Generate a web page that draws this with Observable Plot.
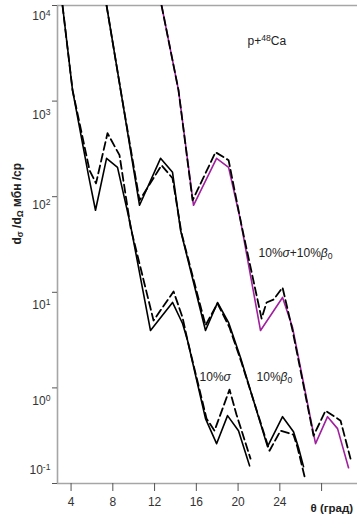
<!DOCTYPE html>
<html><head><meta charset="utf-8">
<script src="https://cdn.jsdelivr.net/npm/d3@7"></script>
<script src="https://cdn.jsdelivr.net/npm/@observablehq/plot@0.6"></script>
<style>html,body{margin:0;padding:0;background:#fff;overflow:hidden}</style>
</head><body><div id="chart"></div>
<script>
// ---- axis ticks ----
const xDomain = [2.7, 31.44];
const yDomain = [0.1, 1e4];
const xTicks = [4, 8, 12, 16, 20, 24, 28];
const xTickLabels = ["4", "8", "12", "16", "20", "24", ""];
const yTicks = [1e4, 1e3, 1e2, 1e1, 1e0, 1e-1];
const yTickLabels = ["10^{4}", "10^{3}", "10^{2}", "10^{1}", "10^{0}", "10^{-1}"];

// ---- curves: [theta (deg), dσ/dΩ (mb/sr)] ----
const sigmaSolid = [[3.18,10000],[4.14,1303],[5.67,167],[6.34,72.1],[7.40,252],[8.45,203],[9.70,50.1],[11.61,3.98],[13.72,7.83],[14.68,4.72],[15.16,3.13],[16.88,0.477],[17.94,0.261],[18.99,0.513],[20.04,0.357],[21.10,0.153]];
const sigmaDashed = [[3.18,10000],[4.14,1303],[5.77,189],[6.39,138],[7.49,461],[8.64,272],[9.70,47.8],[11.90,5.07],[13.82,10.2],[14.68,5.45],[15.16,3.13],[16.98,0.477],[17.74,0.357],[19.18,0.96],[19.85,0.525],[21.19,0.182]];
const betaSolid = [[7.40,10000],[8.83,1153],[10.56,81.3],[12.57,252],[13.72,180],[14.49,44.5],[16.88,3.98],[18.03,7.83],[19.09,4.83],[20.23,2.08],[22.82,0.243],[24.26,0.500],[25.31,0.348],[25.79,0.237],[26.27,0.150]];
const betaDashed = [[7.40,10000],[8.83,1153],[10.56,91.6],[12.67,213],[13.72,156],[14.58,41.4],[16.88,4.50],[18.03,7.64],[19.18,4.28],[20.33,1.84],[23.01,0.220],[24.07,0.357],[25.31,0.324],[25.70,0.237],[26.37,0.118]];
const bothSolid = [[12.67,10000],[14.29,1303],[15.73,81.3],[17.94,252],[19.09,203],[20.23,56.6],[22.15,3.98],[24.26,8.83],[25.22,4.28],[27.42,0.261],[28.57,0.500],[29.53,0.375],[30.58,0.146]];
const bothDashed = [[12.67,10000],[14.29,1303],[15.64,91.6],[17.84,292],[19.09,241],[20.33,50.1],[22.25,5.32],[22.73,7.83],[23.40,8.41],[24.26,11.2],[25.22,3.98],[27.23,0.316],[28.38,0.578],[29.82,0.454],[30.77,0.182]];

// ---- annotations ----
const annoText = ["p+^{48}Ca", "10%~{σ}+10%~{β}_{0}", "10%~{σ}", "10%~{β}_{0}"];
const annoTheta = [20.91, 21.96, 16.31, 21.77];
const annoValue = [4246, 25.5, 1.28, 1.31];
const yLabel = "d_{σ} /d_{Ω} мбн /ср";
const xLabel = "θ (град)";

const annos = annoText.map((t, i) => ({t, x: annoTheta[i], y: annoValue[i]}));
const fx = d => d[0], fy = d => d[1];
const gray = "#a6a6a6";
const dash = "8,4";

const yOffsets = [11, 14, 8, 13, 13, -13];

const chart = Plot.plot({
  width: 357, height: 521,
  marginLeft: 57, marginRight: 0, marginTop: 5, marginBottom: 38,
  x: {domain: xDomain},
  y: {type: "log", domain: yDomain},
  style: {fontFamily: "Arial, 'Liberation Sans', Helvetica, sans-serif", fontSize: "12px", color: "#333", background: "#fff", overflow: "visible"},
  marks: [
    Plot.ruleY([yDomain[1], yDomain[0]], {stroke: gray, strokeWidth: 1.6}),
    Plot.ruleX([xDomain[0]], {stroke: gray, strokeWidth: 1.6}),
    Plot.axisX({ticks: xTicks, tickSize: 8, tickPadding: 6, stroke: "#555", tickFormat: d => xTickLabels[xTicks.indexOf(d)], label: null}),
    Plot.axisY({ticks: yTicks, tickSize: 5, stroke: "#555", tickFormat: () => "", label: null}),
    ...yTicks.map((t, i) => Plot.axisY({ticks: [t], tickSize: 0, tickPadding: 7, dy: yOffsets[i], tickFormat: () => yTickLabels[i], label: null})),
    Plot.line(sigmaSolid, {x: fx, y: fy, stroke: "#000", strokeWidth: 1.6, clip: true}),
    Plot.line(betaSolid, {x: fx, y: fy, stroke: "#000", strokeWidth: 1.6, clip: true}),
    Plot.line(bothSolid, {x: fx, y: fy, stroke: "#a0209e", strokeWidth: 1.6, clip: true}),
    Plot.line(sigmaDashed, {x: fx, y: fy, stroke: "#000", strokeWidth: 1.8, strokeDasharray: dash, clip: true}),
    Plot.line(betaDashed, {x: fx, y: fy, stroke: "#000", strokeWidth: 1.8, strokeDasharray: dash, clip: true}),
    Plot.line(bothDashed, {x: fx, y: fy, stroke: "#000", strokeWidth: 1.8, strokeDasharray: dash, clip: true}),
    Plot.text(annos, {x: "x", y: "y", text: "t", textAnchor: "start", fill: "#222", fontSize: 12}),
    Plot.text([yLabel], {text: d => d, frameAnchor: "left", dx: -40, rotate: -90, fontWeight: "bold", fontSize: 12, fill: "#222"}),
    Plot.text([xLabel], {text: d => d, frameAnchor: "bottom-right", textAnchor: "start", dx: -47, dy: 28, fontWeight: "bold", fontSize: 11.5, fill: "#222"})
  ]
});

function rich(node) {
  const s = node.textContent;
  if (!/[\^_~]\{/.test(s)) return;
  while (node.firstChild) node.removeChild(node.firstChild);
  const re = /([\^_~])\{([^}]*)\}/g;
  let last = 0, m;
  const add = (txt, attrs) => {
    const t = document.createElementNS("http://www.w3.org/2000/svg", "tspan");
    t.textContent = txt;
    for (const k in attrs) t.setAttribute(k, attrs[k]);
    node.appendChild(t);
  };
  while ((m = re.exec(s))) {
    if (m.index > last) add(s.slice(last, m.index), {});
    if (m[1] === "^") add(m[2], {"baseline-shift": "40%", "font-size": "72%"});
    else if (m[1] === "_") add(m[2], {"baseline-shift": "-25%", "font-size": "72%"});
    else add(m[2], {"font-style": "italic"});
    last = re.lastIndex;
  }
  if (last < s.length) add(s.slice(last), {});
}
d3.select(chart).selectAll("text").each(function() { rich(this); });
document.getElementById("chart").appendChild(chart);
</script>
</body></html>
